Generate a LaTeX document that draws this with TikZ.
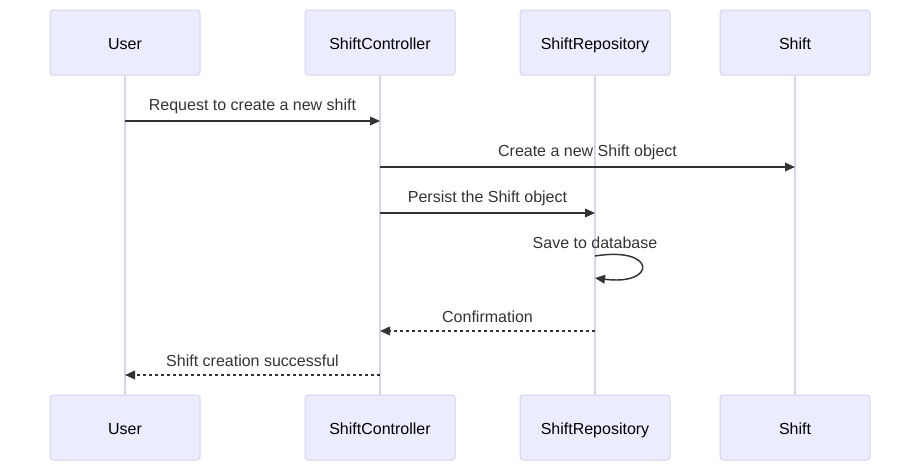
\documentclass[tikz,border=0pt]{standalone}
\usepackage{fontspec}
\setmainfont{Liberation Sans}
\usetikzlibrary{arrows.meta,positioning}
\definecolor{actorfill}{HTML}{ECECFF}
\definecolor{actorline}{HTML}{D8D3F0}
\definecolor{msgline}{HTML}{333333}

\begin{document}
\begin{tikzpicture}[x=0.75pt,y=-0.75pt,node distance=239.25pt,
    actor/.style={draw=actorline,fill=actorfill,rounded corners=2.25pt,line width=0.75pt,
      minimum width=112.5pt,minimum height=48.75pt,text height=10.5pt,text depth=0.5pt,
      font=\fontsize{12}{14}\selectfont},
    life/.style={draw=actorline,line width=1.1pt},
    msg/.style={draw=msgline,line width=1.1pt,-{Triangle[length=7.5pt,width=6.5pt]}},
    reply/.style={msg,dash pattern=on 2.25pt off 2.25pt},
    lbl/.style={above=3pt,text=msgline,font=\fontsize{12}{14}\selectfont,inner sep=2pt,
      text height=8.6pt,text depth=2.4pt},
    rlbl/.style={lbl,yshift=-1.5pt}]
    \useasboundingbox (0,0) rectangle (920,471);

    % actors
    \node[actor] (user) at (125,42.5) {User};
    \node[actor] (ctrl) at (380,42.5) {ShiftController};
    \node[actor] (repo) at (595,42.5) {ShiftRepository};
    \node[actor] (shift) at (795,42.5) {Shift};
    \node[actor,below=of user] (user2) {User};
    \node[actor,below=of ctrl] (ctrl2) {ShiftController};
    \node[actor,below=of repo] (repo2) {ShiftRepository};
    \node[actor,below=of shift] (shift2) {Shift};

    % lifelines
    \draw[life] (user) -- (user2);
    \draw[life] (ctrl) -- (ctrl2);
    \draw[life] (repo) -- (repo2);
    \draw[life] (shift) -- (shift2);

    % message levels
    \coordinate (y1) at (0,121);
    \coordinate (y2) at (0,167);
    \coordinate (y3) at (0,213);
    \coordinate (y4) at (0,256);
    \coordinate (y5) at (0,278);
    \coordinate (y6) at (0,331);
    \coordinate (y7) at (0,375);

    \draw[msg] (user |- y1) -- node[lbl] {Request to create a new shift} (ctrl |- y1);
    \draw[msg] (ctrl |- y2) -- node[lbl] {Create a new Shift object} (shift |- y2);
    \draw[msg] (ctrl |- y3) -- node[lbl] {Persist the Shift object} (repo |- y3);
    \node[lbl,yshift=-2.25pt] at (repo |- y4) {Save to database};
    \draw[msg] (repo |- y4) .. controls +(62,-10) and +(62,8) .. (repo |- y5);
    \draw[reply] (repo |- y6) -- node[rlbl] {Confirmation} (ctrl |- y6);
    \draw[reply] (ctrl |- y7) -- node[rlbl] {Shift creation successful} (user |- y7);
  \end{tikzpicture}
\end{document}
